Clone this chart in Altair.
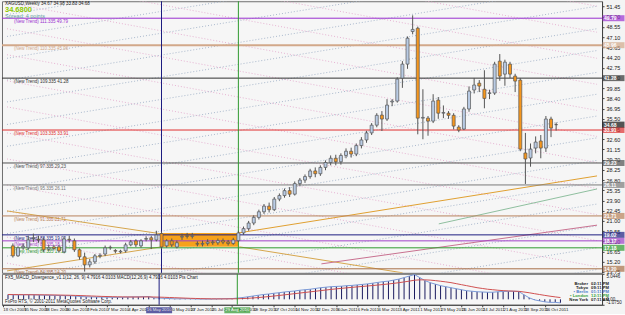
import altair as alt
import pandas as pd

# ---------------- data ----------------
opens = [17.46, 16.04, 17.2, 17.18, 18.5, 18.4, 18.3, 17.0, 17.3, 17.3,
         16.6, 18.4, 18.17, 16.9, 15.9, 14.76, 15.19, 16.0, 16.3, 17.2,
         16.8, 16.6, 16.75, 17.6, 18.17, 17.46, 18.4, 18.6, 18.3, 19.2,
         17.46, 18.17, 17.3, 18.7, 18.9, 18.8, 17.8, 17.7, 17.8, 18.0,
         17.9, 18.2, 18.0, 17.8, 18.2, 19.3, 19.9, 20.7, 21.5, 22.3,
         23.1, 22.6, 24.1, 24.6, 25.3, 24.8, 26.3, 26.8, 27.3, 28.1,
         27.7, 28.6, 29.3, 29.9, 29.4, 30.3, 30.9, 30.5, 31.7, 32.5,
         33.5, 34.6, 36.03, 35.47, 37.9, 38.02, 41.28, 43.27, 47.9, 48.37,
         35.6, 35.6, 35.18, 38.16, 36.3, 36.3, 36.0, 34.33, 34.05, 36.9,
         39.6, 40.57, 39.7, 39.1, 39.16, 43.69, 41.85, 43.27, 41.57, 41.0,
         30.65, 29.94, 31.35, 32.35, 31.35, 35.47, 34.67]
highs = [17.8, 17.4, 17.8, 18.9, 19.2, 18.9, 18.6, 17.6, 17.6, 17.6,
         18.8, 18.9, 18.5, 17.1, 16.5, 15.6, 16.3, 16.4, 17.5, 17.5,
         17.0, 16.9, 17.9, 18.3, 18.4, 18.4, 18.8, 18.9, 19.6, 19.5,
         18.4, 18.5, 18.2, 19.2, 19.3, 19.3, 18.1, 18.2, 18.4, 18.3,
         18.5, 18.5, 18.3, 18.6, 19.6, 20.2, 21.0, 21.8, 22.6, 23.4,
         23.6, 24.4, 24.9, 25.6, 25.8, 26.6, 27.1, 27.6, 28.4, 28.6,
         28.9, 29.6, 30.3, 30.4, 30.6, 31.3, 31.4, 32.0, 32.9, 33.8,
         34.9, 36.3, 36.6, 38.3, 38.3, 41.4, 43.7, 47.2, 50.2, 48.6,
         39.7, 35.9, 39.0, 38.6, 37.4, 36.6, 36.3, 34.6, 37.2, 40.1,
         41.3, 41.0, 42.4, 39.6, 43.6, 44.7, 43.9, 43.6, 41.9, 41.3,
         33.5, 32.0, 33.0, 33.2, 35.9, 35.8, 34.98]
lows = [15.8, 15.9, 16.9, 16.9, 18.0, 17.9, 16.6, 16.7, 16.8, 16.5,
        16.4, 17.9, 16.6, 15.5, 13.8, 14.4, 14.9, 15.7, 16.0, 16.9,
        16.4, 16.4, 16.5, 17.4, 17.3, 17.2, 18.1, 17.0, 18.1, 17.0,
        17.2, 17.3, 17.1, 18.3, 18.5, 18.5, 17.4, 17.4, 17.5, 17.6,
        17.6, 17.7, 17.5, 17.6, 18.0, 19.0, 19.6, 20.4, 21.2, 22.0,
        22.2, 22.4, 23.8, 24.3, 24.4, 24.6, 26.0, 26.4, 27.0, 27.2,
        27.4, 28.2, 28.9, 28.9, 29.0, 29.9, 30.0, 30.2, 31.3, 32.1,
        33.2, 34.3, 33.77, 35.2, 37.3, 37.8, 39.9, 42.6, 47.5, 33.3,
        32.6, 33.1, 34.9, 35.5, 35.6, 35.5, 34.0, 33.6, 33.9, 36.5,
        39.1, 39.3, 37.0, 38.3, 38.9, 40.9, 40.2, 41.3, 39.3, 30.9,
        26.25, 28.7, 30.6, 29.9, 30.8, 32.9, 33.83]
closes = [16.04, 17.18, 17.4, 18.3, 18.6, 18.3, 16.9, 17.2, 17.1, 16.75,
          18.45, 18.3, 16.9, 15.9, 14.76, 15.19, 16.04, 16.1, 17.18, 17.25,
          16.7, 16.7, 17.6, 18.03, 17.6, 18.17, 18.5, 18.3, 19.0, 17.3,
          18.17, 17.6, 17.9, 18.8, 18.8, 18.9, 17.7, 17.8, 18.0, 17.9,
          18.2, 18.0, 17.8, 18.3, 19.3, 19.9, 20.7, 21.5, 22.3, 23.1,
          22.6, 24.1, 24.6, 25.3, 24.8, 26.3, 26.8, 27.3, 28.1, 27.7,
          28.6, 29.3, 29.9, 29.4, 30.3, 30.9, 30.5, 31.7, 32.5, 33.5,
          34.6, 36.0, 35.47, 37.45, 38.02, 41.14, 43.27, 46.95, 48.2, 35.6,
          35.7, 35.18, 38.02, 36.3, 36.4, 36.0, 34.47, 33.9, 36.9, 39.44,
          40.3, 40.15, 38.4, 39.2, 43.27, 41.57, 43.55, 41.85, 40.86, 31.2,
          29.8, 31.2, 32.2, 31.35, 35.47, 34.2, 34.68]

macd_hist = [0.95, 0.9, 0.88, 0.9, 0.92, 0.9, 0.85, 0.82, 0.8, 0.78,
             0.75, 0.72, 0.7, 0.65, 0.55, 0.5, 0.48, 0.45, 0.45, 0.42,
             0.4, 0.4, 0.42, 0.45, 0.48, 0.5, 0.52, 0.55, 0.3, 0.25,
             0.2, 0.15, 0.1, 0.1, 0.12, 0.1, 0.08, 0.05, 0.05, 0.05,
             0.08, 0.1, 0.12, 0.15, 0.25, 0.35, 0.5, 0.65, 0.8, 0.95,
             1.05, 1.2, 1.3, 1.45, 1.55, 1.65, 1.8, 1.9, 2.0, 2.15,
             2.3, 2.4, 2.5, 2.55, 2.6, 2.7, 2.75, 2.85, 2.95, 3.05,
             3.2, 3.35, 3.5, 3.6, 3.8, 4.0, 4.3, 4.6, 4.9, 4.3,
             3.7, 3.3, 3.0, 2.7, 2.5, 2.3, 2.1, 1.9, 1.7, 1.6,
             1.5, 1.45, 1.4, 1.4, 1.5, 1.55, 1.6, 1.6, 1.55, 0.9,
             0.3, -0.1, -0.3, -0.5, -0.6, -0.6, -0.7]
macd_signal = [0.95, 0.94, 0.93, 0.92, 0.91, 0.9, 0.9, 0.89, 0.88, 0.86,
               0.84, 0.82, 0.8, 0.77, 0.74, 0.7, 0.66, 0.62, 0.58, 0.55,
               0.52, 0.5, 0.48, 0.47, 0.46, 0.46, 0.47, 0.48, 0.46, 0.43,
               0.4, 0.36, 0.32, 0.28, 0.24, 0.2, 0.17, 0.14, 0.12, 0.1,
               0.09, 0.09, 0.09, 0.1, 0.12, 0.15, 0.2, 0.27, 0.35, 0.44,
               0.54, 0.65, 0.76, 0.88, 1.0, 1.12, 1.24, 1.36, 1.48, 1.6,
               1.72, 1.84, 1.96, 2.07, 2.17, 2.27, 2.37, 2.46, 2.55, 2.64,
               2.73, 2.83, 2.93, 3.04, 3.16, 3.29, 3.44, 3.6, 3.78, 3.85,
               3.85, 3.8, 3.7, 3.58, 3.45, 3.3, 3.1, 2.9, 2.7, 2.5,
               2.3, 2.15, 2.0, 1.9, 1.8, 1.72, 1.66, 1.62, 1.58, 1.45,
               1.3, 1.12, 0.95, 0.78, 0.62, 0.48, 0.35]

date_ticks = [-1, 3, 7, 11, 15, 19, 23, 27, 31, 35, 39, 43, 47, 51, 55,
              59, 63, 67, 71, 75, 79, 83, 87, 91, 95, 99, 103]
date_labels = ["18 Oct 2009", "15 Nov 2009", "13 Dec 2009", "10 Jan 2010",
               "7 Feb 2010", "7 Mar 2010", "4 Apr 2010", "2 May 2010",
               "30 May 2010", "27 Jun 2010", "25 Jul 2010", "22 Aug 2010",
               "19 Sep 2010", "17 Oct 2010", "14 Nov 2010", "12 Dec 2010",
               "9 Jan 2011", "6 Feb 2011", "6 Mar 2011", "3 Apr 2011",
               "1 May 2011", "29 May 2011", "26 Jun 2011", "24 Jul 2011",
               "21 Aug 2011", "18 Sep 2011", "16 Oct 2011"]

price_ticks = [13.75, 15.20, 16.65, 18.10, 19.55, 21.00, 22.45, 23.90, 25.35,
               26.80, 28.25, 29.70, 31.15, 32.60, 34.05, 35.50, 36.95, 38.40,
               39.85, 41.30, 42.75, 44.20, 45.65, 47.10, 48.55, 50.00, 51.45]

level_prices = [49.79, 45.96, 41.28, 33.91, 29.23, 26.11, 21.71, 19.02, 18.17, 17.18, 14.20]
level_colors = ["#9b30d0", "#d2a88a", "#303030", "#e03030", "#505050", "#7a7a7a",
                "#b8825a", "#1c1c80", "#a040c8", "#2f9a2f", "#a87048"]
level_widths = [1, 2, 1, 1, 1, 1, 1, 1, 1, 1, 1]
level_pips = ["111.335", "110.335", "109.335", "103.335", "97.335", "95.335",
              "91.335", "88.335", "87.335", "86.335", "84.335"]

rise_left = [0.5, 3.6, 6.7, 9.8, 12.9, 16.0, 19.2, 22.3, 25.4, 28.5, 31.6, 34.7, 37.9, 41.0, 44.1, 47.2, 50.3]
rise_right = [14.1, 17.2, 20.3, 23.4, 26.5, 29.6, 32.8, 35.9, 39.0, 42.1, 45.2, 48.3, 51.5, 54.6, 57.7, 60.8, 63.9]
fall_left = [15.0, 18.7, 22.4, 26.1, 29.8, 33.5, 37.2, 40.9, 44.6, 48.3, 52.0, 55.7, 59.4, 63.1, 66.8]
fall_right = [-0.3, 3.4, 7.1, 10.8, 14.5, 18.2, 21.9, 25.6, 29.3, 33.0, 36.7, 40.4, 44.1, 47.8, 51.5]

trend_x1 = [-1.15, -1.15, 44.2, 44.06, 83.1, 60.2]
trend_x2 = [29.0, 29.0, 76.05, 113.98, 113.98, 113.98]
trend_p1 = [22.42, 13.90, 17.32, 19.30, 20.58, 14.90]
trend_p2 = [19.16, 17.32, 13.63, 27.39, 25.54, 20.40]
trend_colors = ["#d6a64c", "#d6a64c", "#d6a64c", "#e0a030", "#8fbf9f", "#c87090"]

box_x1, box_x2 = [29.0], [44.0]
box_p1, box_p2 = [19.3], [17.32]

vlines_i = [29, 44]
vlines_colors = ["#1c1c80", "#2f9a2f"]
vlines_labels = ["16 May 2010", "29 Aug 2010"]

clock_names = ["Broker", "Tokyo", "\u2022 Berlin", "\u2022 London", "New York"]
clock_times = ["02:11 PM", "09:11 PM", "01:11 PM", "12:11 PM", "07:11 AM"]
clock_colors = ["#202020", "#202020", "#4a78c8", "#3aa03a", "#202020"]
clock_rows = [10, 14, 18, 22, 26]

# ---------------- build ----------------
FONT = "Liberation Sans"
NARROW = "Liberation Sans Narrow, Liberation Sans"
W, H_MAIN, H_SUB = 601, 272, 31
xs = alt.Scale(domain=[-1.15, 113.98], nice=False, zero=False)
ys = alt.Scale(domain=[13.63, 52.2], nice=False, zero=False)
ms = alt.Scale(domain=[-1.075, 5.0446], nice=False, zero=False)

df = pd.DataFrame({"i": list(range(len(opens))), "o": opens, "h": highs, "l": lows, "c": closes,
                   "hist": macd_hist, "sig": macd_signal})

yaxis = alt.Axis(orient="right", values=price_ticks, format=".2f", labelFontSize=5.5,
                 labelFont=FONT, labelColor="#202020", tickSize=2, tickColor="#404040",
                 domainColor="#404040", labelPadding=2, grid=False, title=None,
                 labelFlush=False, labelOverlap=False, labelBound=False)
label_expr = "[" + ",".join("'" + s + "'" for s in date_labels) + "][(datum.value + 1) / 4]"
xaxis = alt.Axis(orient="bottom", values=date_ticks, labelExpr=label_expr, labelAlign="left",
                 labelFontSize=4.3, labelFont=NARROW, labelColor="#202020", tickSize=2,
                 tickColor="#404040", domainColor="#404040", labelPadding=1, grid=False,
                 title=None, labelOverlap=False, labelFlush=False, labelBound=False)
maxis = alt.Axis(orient="right", values=[5.0446, 0, -1.075],
                 labelExpr="datum.value > 1 ? '5.0446' : (datum.value < -0.5 ? '-1.0750' : '0.00')",
                 labelFontSize=4.5, labelFont=FONT, labelColor="#202020", tickSize=2,
                 tickColor="#404040", domainColor="#404040", labelPadding=2, grid=False,
                 title=None, labelFlush=True, labelOverlap=False)


def X(field):  # main panel x (no axis)
    return alt.X(field, scale=xs, axis=None)


def Y(field):
    return alt.Y(field, scale=ys, axis=yaxis)


def XS(field):  # sub panel x (date axis)
    return alt.X(field, scale=xs, axis=xaxis)


def M(field):
    return alt.Y(field, scale=ms, axis=maxis)


base = alt.Chart(df)

rise_df = pd.DataFrame({"x1": [-1.15] * len(rise_left), "x2": [113.98] * len(rise_left),
                        "p1": rise_left, "p2": rise_right})
fall_df = pd.DataFrame({"x1": [-1.15] * len(fall_left), "x2": [113.98] * len(fall_left),
                        "p1": fall_left, "p2": fall_right})
rise = alt.Chart(rise_df).mark_rule(clip=True, color="#a9b8cc", strokeDash=[1, 2], strokeWidth=1).encode(
    x=X("x1:Q"), x2="x2:Q", y=Y("p1:Q"), y2="p2:Q")
fall = alt.Chart(fall_df).mark_rule(clip=True, color="#e6b3d2", strokeDash=[1, 2], strokeWidth=1).encode(
    x=X("x1:Q"), x2="x2:Q", y=Y("p1:Q"), y2="p2:Q")

trend_df = pd.DataFrame({"x1": trend_x1, "x2": trend_x2, "p1": trend_p1, "p2": trend_p2, "col": trend_colors})
trend = alt.Chart(trend_df).mark_rule(clip=True, strokeWidth=1).encode(
    x=X("x1:Q"), x2="x2:Q", y=Y("p1:Q"), y2="p2:Q", color=alt.Color("col:N", scale=None))

box_df = pd.DataFrame({"x1": box_x1, "x2": box_x2, "p1": box_p1, "p2": box_p2})
box = alt.Chart(box_df).mark_rect(color="#f7a21b").encode(
    x=X("x1:Q"), x2="x2:Q", y=Y("p1:Q"), y2="p2:Q")

lev_df = pd.DataFrame({"p": level_prices, "col": level_colors, "w": level_widths,
                       "lab": ["(New Trend)   " + pp + "   " + f"{v:.2f}" for pp, v in zip(level_pips, level_prices)],
                       "val": [f"{v:.2f}" for v in level_prices]})
levels = alt.Chart(lev_df).mark_rule().encode(
    y=Y("p:Q"), color=alt.Color("col:N", scale=None), strokeWidth=alt.StrokeWidth("w:Q", scale=None))
lev_text = alt.Chart(lev_df).mark_text(align="left", baseline="top", dy=1, fontSize=4.5, font=FONT).encode(
    x=alt.value(12), y=Y("p:Q"), text="lab:N", color=alt.Color("col:N", scale=None))
lev_box = alt.Chart(lev_df).mark_tick(orient="horizontal", size=22, thickness=6).encode(
    x=alt.value(612.5), y=Y("p:Q"), color=alt.Color("col:N", scale=None))
lev_boxtext = alt.Chart(lev_df).mark_text(align="left", baseline="middle", fontSize=5, font=FONT,
                                          color="white", fontWeight="bold").encode(
    x=alt.value(603), y=Y("p:Q"), text="val:N")

cur_df = pd.DataFrame({"p": [closes[-1]], "val": [f"{closes[-1]:.2f}"]})
cur_box = alt.Chart(cur_df).mark_tick(orient="horizontal", size=22, thickness=6, color="#101010").encode(
    x=alt.value(612.5), y=Y("p:Q"))
cur_text = alt.Chart(cur_df).mark_text(align="left", baseline="middle", fontSize=5, font=FONT,
                                       color="white", fontWeight="bold").encode(
    x=alt.value(603), y=Y("p:Q"), text="val:N")

vl_df = pd.DataFrame({"i": vlines_i, "col": vlines_colors, "lab": vlines_labels})
vlines = alt.Chart(vl_df).mark_rule(strokeWidth=1).encode(
    x=X("i:Q"), color=alt.Color("col:N", scale=None))

wicks = base.mark_rule(color="#555555", strokeWidth=1).encode(
    x=X("i:Q"), y=Y("l:Q"), y2="h:Q")
bodies = base.mark_bar(size=3, stroke="#555555", strokeWidth=0.7).encode(
    x=X("i:Q"), y=Y("o:Q"), y2="c:Q",
    color=alt.condition("datum.c >= datum.o", alt.value("#b9cbe4"), alt.value("#f5961d")))

hdr_df = pd.DataFrame({"t": ["XAGUSD,Weekly  34.67 34.98 33.83 34.68", "34.6800", "Spread: 4 points"]})
hdr1 = alt.Chart(hdr_df.iloc[[0]]).mark_text(align="left", baseline="middle", fontSize=4.5, font=FONT,
                                              color="#202020").encode(x=alt.value(3), y=alt.value(2.8), text="t:N")
hdr2 = alt.Chart(hdr_df.iloc[[1]]).mark_text(align="left", baseline="middle", fontSize=7.5, font=FONT,
                                              color="#8cc800", fontWeight="bold").encode(
    x=alt.value(3), y=alt.value(8.9), text="t:N")
hdr3 = alt.Chart(hdr_df.iloc[[2]]).mark_text(align="left", baseline="middle", fontSize=5.5, font=FONT,
                                              color="#5f9ea0").encode(x=alt.value(3), y=alt.value(14.3), text="t:N")

main = alt.layer(rise, fall, box, trend, levels, lev_text, vlines, wicks, bodies,
                 lev_box, lev_boxtext, cur_box, cur_text, hdr1, hdr2, hdr3).properties(width=W, height=H_MAIN)

# ----- MACD sub-window -----
hist = base.mark_rule(color="#1a1a5e", strokeWidth=1).encode(
    x=XS("i:Q"), y=M("hist:Q"), y2=alt.datum(0))
mline = base.mark_line(color="#7a9ad8", strokeWidth=1).encode(x=XS("i:Q"), y=M("hist:Q"))
sline = base.mark_line(color="#d05050", strokeWidth=1).encode(x=XS("i:Q"), y=M("sig:Q"))
vlines2 = alt.Chart(vl_df).mark_rule(strokeWidth=1).encode(
    x=XS("i:Q"), color=alt.Color("col:N", scale=None))
vl_box = alt.Chart(vl_df).mark_tick(orient="horizontal", size=26, thickness=6).encode(
    x=XS("i:Q"), y=alt.value(H_SUB + 5.5), color=alt.Color("col:N", scale=None))
vl_boxtext = alt.Chart(vl_df).mark_text(align="center", baseline="middle", fontSize=4.3, font=NARROW,
                                        color="white").encode(
    x=XS("i:Q"), y=alt.value(H_SUB + 5.5), text="lab:N")

sub_df = pd.DataFrame({"t": ["FX5_MACD_Divergence_v1.1(12, 26, 9)  4.7916  4.0103  MACD(12,26,9) 4.7916 4.0103  Pts  Chart",
                             "FxPro RTS, \u00a9 2001-2011 MetaQuotes Software Corp."]})
sub1 = alt.Chart(sub_df.iloc[[0]]).mark_text(align="left", baseline="middle", fontSize=4.5, font=FONT,
                                              color="#202020").encode(x=alt.value(3), y=alt.value(4), text="t:N")
sub2 = alt.Chart(sub_df.iloc[[1]]).mark_text(align="left", baseline="middle", fontSize=4.5, font=FONT,
                                              color="#202020").encode(x=alt.value(3), y=alt.value(H_SUB - 2.5), text="t:N")

clk_df = pd.DataFrame({"n": clock_names, "t": clock_times, "col": clock_colors, "yy": clock_rows})
clk_n = alt.Chart(clk_df).mark_text(align="right", baseline="middle", fontSize=4.2, font=FONT,
                                    fontWeight="bold").encode(
    x=alt.value(587), y=alt.Y("yy:Q", scale=None), text="n:N", color=alt.Color("col:N", scale=None))
clk_t = alt.Chart(clk_df).mark_text(align="left", baseline="middle", fontSize=4.2, font=FONT,
                                    fontWeight="bold").encode(
    x=alt.value(590), y=alt.Y("yy:Q", scale=None), text="t:N", color=alt.Color("col:N", scale=None))

sub = alt.layer(hist, mline, sline, vlines2, vl_box, vl_boxtext, sub1, sub2, clk_n, clk_t).properties(
    width=W, height=H_SUB)

chart = alt.vconcat(main, sub, spacing=1, bounds="flush").properties(
    padding={"left": 0, "right": 0, "top": 0, "bottom": 0}, background="#f4f4f4"
).configure_view(stroke="#6f6f6f", strokeWidth=1, fill="#f6f6f6").configure_axis(
    labelOverlap=False).resolve_scale(y="independent")

chart.save("out.html", embed_options={"renderer": "svg", "actions": False})
